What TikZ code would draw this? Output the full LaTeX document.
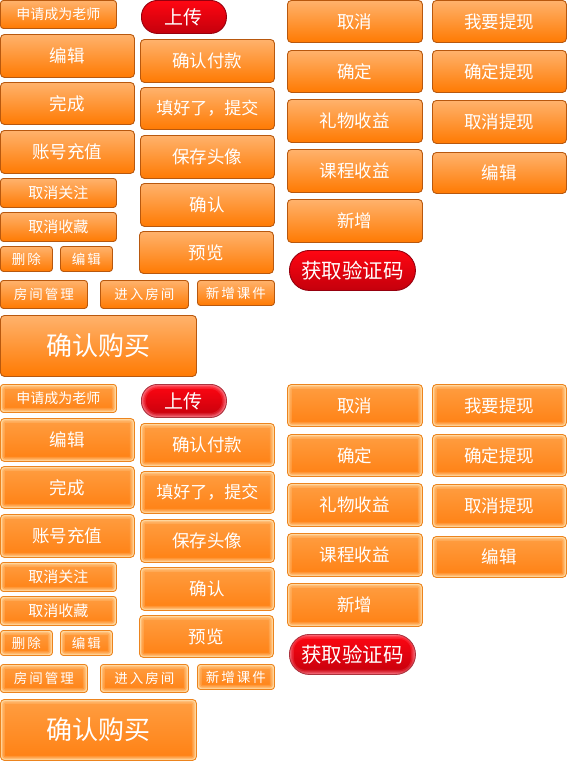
\documentclass[tikz,border=0pt]{standalone}
\usepackage{fontspec}
\usepackage{xcolor}
\usepackage{tikz}
\newfontfamily\cjk{Noto Sans CJK SC}
\newfontfamily\cjkwide[LetterSpace=15]{Noto Sans CJK SC}
\definecolor{btntop}{RGB}{255, 178, 108}
\definecolor{btnbot}{RGB}{255, 122, 2}
\definecolor{btnline}{RGB}{184, 88, 14}
\definecolor{hovtop}{RGB}{255, 158, 66}
\definecolor{hovbot}{RGB}{255, 128, 18}
\definecolor{hovline}{RGB}{236, 132, 30}
\definecolor{hovglow}{RGB}{255, 230, 182}
\definecolor{redtop}{RGB}{255, 6, 18}
\definecolor{redbot}{RGB}{196, 0, 12}
\definecolor{redline}{RGB}{150, 0, 14}
\definecolor{redglow}{RGB}{255, 130, 145}

\tikzset{
  base/.style={anchor=north west, inner sep=0pt, line width=0.9pt, text=white, rounded corners=4pt},
  box/.style 2 args={minimum width=#1pt, minimum height=#2pt},
  txt/.style={font=\cjk\fontsize{#1}{#1}\selectfont},
  wide/.style={font=\cjkwide\fontsize{#1}{#1}\selectfont},
  round/.style={rounded corners=#1pt},
  plainbtn/.style={base, draw=btnline, top color=btntop, bottom color=btnbot},
  plainpill/.style={base, draw=redline, top color=redtop, bottom color=redbot},
  glowbtn/.style={base, draw=hovline, top color=hovtop, bottom color=hovbot,
    path picture={
      \foreach \w/\o in {9/.2, 6/.3, 3.5/.5, 1.8/.7}
        \draw[hovglow, line width=\w pt, opacity=\o, rounded corners=4pt]
          (path picture bounding box.south west) rectangle (path picture bounding box.north east);
    }},
  glowpill/.style={base, draw=redline!80, top color=redtop, bottom color=redbot,
    path picture={
      \foreach \w/\o in {9/.2, 6/.3, 3.5/.45, 1.8/.6}
        \draw[redglow, line width=\w pt, opacity=\o, rounded corners=16pt]
          (path picture bounding box.south west) rectangle (path picture bounding box.north east);
    }},
  btn/.style={plainbtn},
  pill/.style={plainpill}
}

% one sheet of buttons, #1 = suffix of the node names
\newcommand\buttonsheet[1]{
  % left column
  \node[btn, round=3, box={116}{28}, txt=14] (apply#1) at (0,0) {申请成为老师};
  \node[btn, box={134}{43}, txt=17.5] (edit#1) at (0,34) {编辑};
  \node[btn, box={134}{42}, txt=17.5] (done#1) at (0,82) {完成};
  \node[btn, box={134}{43}, txt=17.5] (charge#1) at (0,130) {账号充值};
  \node[btn, round=3, box={116}{29}, txt=15] (unfollow#1) at (0,178) {取消关注};
  \node[btn, round=3, box={116}{29}, txt=15] (unfav#1) at (0,212) {取消收藏};
  \node[btn, round=3, box={52}{25}, wide=13.5] (del#1) at (0,246) {删除};
  \node[btn, round=3, box={52}{25}, wide=13.5] (editsm#1) at (60,246) {编辑};
  \node[btn, round=3, box={87}{28}, wide=13.5] (room#1) at (0,280) {房间管理};
  \node[btn, round=3, box={88}{28}, wide=13.5] (enter#1) at (100,280) {进入房间};
  \node[btn, round=3, box={77}{25}, wide=13.5] (course#1) at (197,280) {新增课件};
  \node[btn, box={196}{61}, txt=26] (buy#1) at (0,315) {确认购买};
  % second column
  \node[pill, round=16, box={85}{33}, txt=19] (upload#1) at (141,0) {上传};
  \node[btn, box={134}{43}, txt=17.5] (pay#1) at (140,39) {确认付款};
  \node[btn, box={134}{42}, txt=17] (submit#1) at (140,87) {填好了，提交};
  \node[btn, box={134}{43}, txt=17.5] (avatar#1) at (140,135) {保存头像};
  \node[btn, box={134}{43}, txt=17.5] (ok#1) at (140,183) {确认};
  \node[btn, box={134}{42}, txt=17.5] (preview#1) at (139,231) {预览};
  % third column
  \node[btn, box={135}{42}, txt=17.5] (cancel#1) at (287,0) {取消};
  \node[btn, box={135}{42}, txt=17.5] (confirm#1) at (287,50) {确定};
  \node[btn, box={135}{43}, txt=17.5] (gift#1) at (287,99) {礼物收益};
  \node[btn, box={135}{43}, txt=17.5] (lesson#1) at (287,149) {课程收益};
  \node[btn, box={135}{43}, txt=17.5] (add#1) at (287,199) {新增};
  \node[pill, round=20, box={126}{40}, txt=20.5] (code#1) at (289,250) {获取验证码};
  % fourth column
  \node[btn, box={134}{42}, txt=17.5] (withdraw#1) at (432,0) {我要提现};
  \node[btn, box={134}{42}, txt=17.5] (wok#1) at (432,50) {确定提现};
  \node[btn, box={134}{43}, txt=17.5] (wcancel#1) at (432,100) {取消提现};
  \node[btn, box={134}{41}, txt=17.5] (wedit#1) at (432,152) {编辑};
}

\begin{document}
\begin{tikzpicture}[x=1pt, y=-1pt]
\useasboundingbox (0,0) rectangle (566,763);

% normal state
\buttonsheet{n}

% hover state
\begin{scope}[shift={(0,384)}, btn/.style={glowbtn}, pill/.style={glowpill}]
\buttonsheet{h}
\end{scope}
\end{tikzpicture}
\end{document}
